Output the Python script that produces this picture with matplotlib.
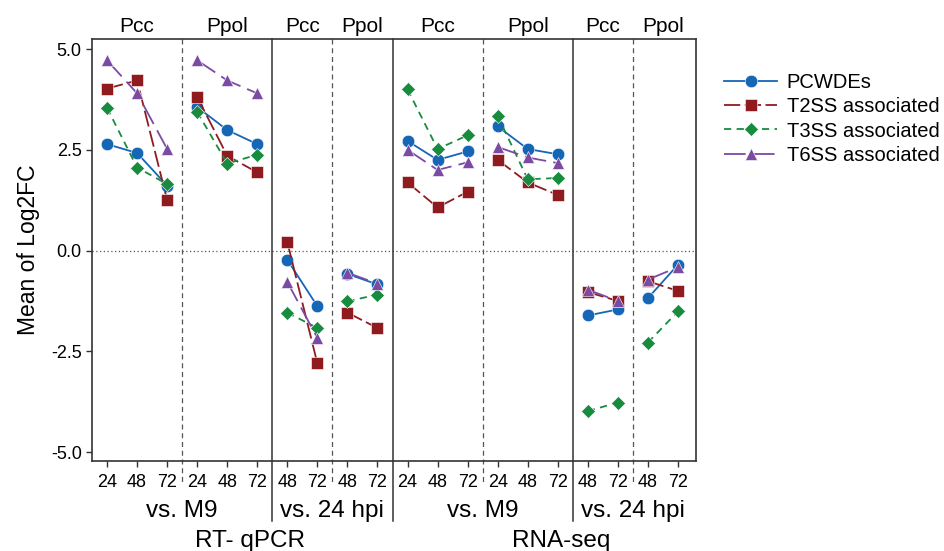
import matplotlib
matplotlib.use("Agg")
import matplotlib.pyplot as plt
import matplotlib.transforms as mtransforms
import numpy as np

plt.rcParams['font.family'] = ['Liberation Sans', 'DejaVu Sans']

# x layout: method / comparison / species / hpi
hpi_labels = ["24", "48", "72", "24", "48", "72", "48", "72", "48", "72",
              "24", "48", "72", "24", "48", "72", "48", "72", "48", "72"]
species_labels = ["Pcc", "Ppol", "Pcc", "Ppol", "Pcc", "Ppol", "Pcc", "Ppol"]
group_sizes = [3, 3, 2, 2, 3, 3, 2, 2]
comparison_labels = ["vs. M9", "vs. 24 hpi", "vs. M9", "vs. 24 hpi"]
method_labels = ["RT- qPCR", "RNA-seq"]

# mean Log2FC, one value per x slot
pcwdes = [2.64, 2.42, 1.61, 3.56, 2.99, 2.64, -0.23, -1.38, -0.58, -0.84,
          2.72, 2.25, 2.46, 3.08, 2.52, 2.39, -1.61, -1.46, -1.18, -0.35]
t2ss = [4.02, 4.22, 1.25, 3.81, 2.35, 1.94, 0.21, -2.80, -1.54, -1.92,
        1.69, 1.07, 1.46, 2.25, 1.69, 1.38, -1.03, -1.25, -0.76, -1.00]
t3ss = [3.54, 2.06, 1.65, 3.44, 2.16, 2.38, -1.54, -1.92, -1.26, -1.09,
        4.00, 2.52, 2.86, 3.34, 1.77, 1.80, -3.98, -3.77, -2.28, -1.51]
t6ss = [4.72, 3.90, 2.52, 4.72, 4.22, 3.90, -0.78, -2.17, -0.55, -0.82,
        2.50, 2.00, 2.19, 2.57, 2.31, 2.17, -0.97, -1.25, -0.72, -0.41]

series = [
    ("PCWDEs", pcwdes, "#1666b6", "o", "-"),
    ("T2SS associated", t2ss, "#901b1f", "s", (0, (9, 2.5))),
    ("T3SS associated", t3ss, "#178b3e", "D", (0, (4, 3))),
    ("T6SS associated", t6ss, "#7b4aa2", "^", (0, (12, 4))),
]

fig = plt.figure(figsize=(9.45, 5.51), dpi=100)
ax = fig.add_axes([0.0974, 0.1633, 0.6391, 0.7660])

x = np.arange(len(hpi_labels))
bounds = np.cumsum([0] + group_sizes)

for name, vals, color, marker, ls in series:
    vals = np.array(vals)
    for i in range(len(group_sizes)):
        s, e = bounds[i], bounds[i + 1]
        ax.plot(x[s:e], vals[s:e], color=color, linestyle=ls, linewidth=1.3,
                marker=marker, markersize=9 if marker != "D" else 7.5,
                markeredgecolor="white", markeredgewidth=0.4,
                label=name if i == 0 else None)

ax.axhline(0, color="#555555", linestyle=(0, (1, 2)), linewidth=0.9, zorder=0)

ax.set_xlim(-0.5, 19.6)
ax.set_ylim(-5.22, 5.25)
ax.set_yticks([5.0, 2.5, 0.0, -2.5, -5.0])
ax.set_yticklabels(["5.0", "2.5", "0.0", "-2.5", "-5.0"])
ax.set_xticks(x)
ax.set_xticklabels(hpi_labels)
ax.tick_params(axis="both", labelsize=13, length=4, width=1.0, color="#333333")
ax.tick_params(axis="x", pad=5)
for sp in ax.spines.values():
    sp.set_color("#333333")
    sp.set_linewidth(1.2)
ax.set_ylabel("Mean of Log2FC", fontsize=16.5, labelpad=8)

trans = mtransforms.blended_transform_factory(ax.transData, ax.transAxes)

# separators between species (dashed) and comparisons (solid)
for i in range(1, len(group_sizes)):
    pos = bounds[i] - 0.5
    if i % 2 == 1:
        ax.plot([pos, pos], [1, -0.05], transform=trans, color="#555555",
                linestyle=(0, (4, 3)), linewidth=0.9, clip_on=False)
    else:
        ax.plot([pos, pos], [1, -0.142], transform=trans, color="#333333",
                linewidth=1.1, clip_on=False)

for i, lab in enumerate(species_labels):
    centre = (bounds[i] + bounds[i + 1] - 1) / 2
    ax.text(centre, 1.0166, lab, transform=trans, ha="center", va="baseline",
            fontsize=15)

for j, lab in enumerate(comparison_labels):
    centre = (bounds[2 * j] + bounds[2 * j + 2] - 1) / 2
    ax.text(centre, -0.133, lab, transform=trans, ha="center", va="baseline",
            fontsize=17.5)

method_shift = [0.27, 0.6]
for k, lab in enumerate(method_labels):
    centre = (bounds[4 * k] + bounds[4 * k + 4] - 1) / 2 + method_shift[k]
    ax.text(centre, -0.204, lab, transform=trans, ha="center", va="baseline",
            fontsize=17.5)

fig.legend(loc="upper left", bbox_to_anchor=(0.758, 0.882), frameon=False,
           fontsize=14.5, handlelength=2.6, handletextpad=0.5,
           labelspacing=0.26, borderaxespad=0)

fig.savefig("out.png", dpi=100)
